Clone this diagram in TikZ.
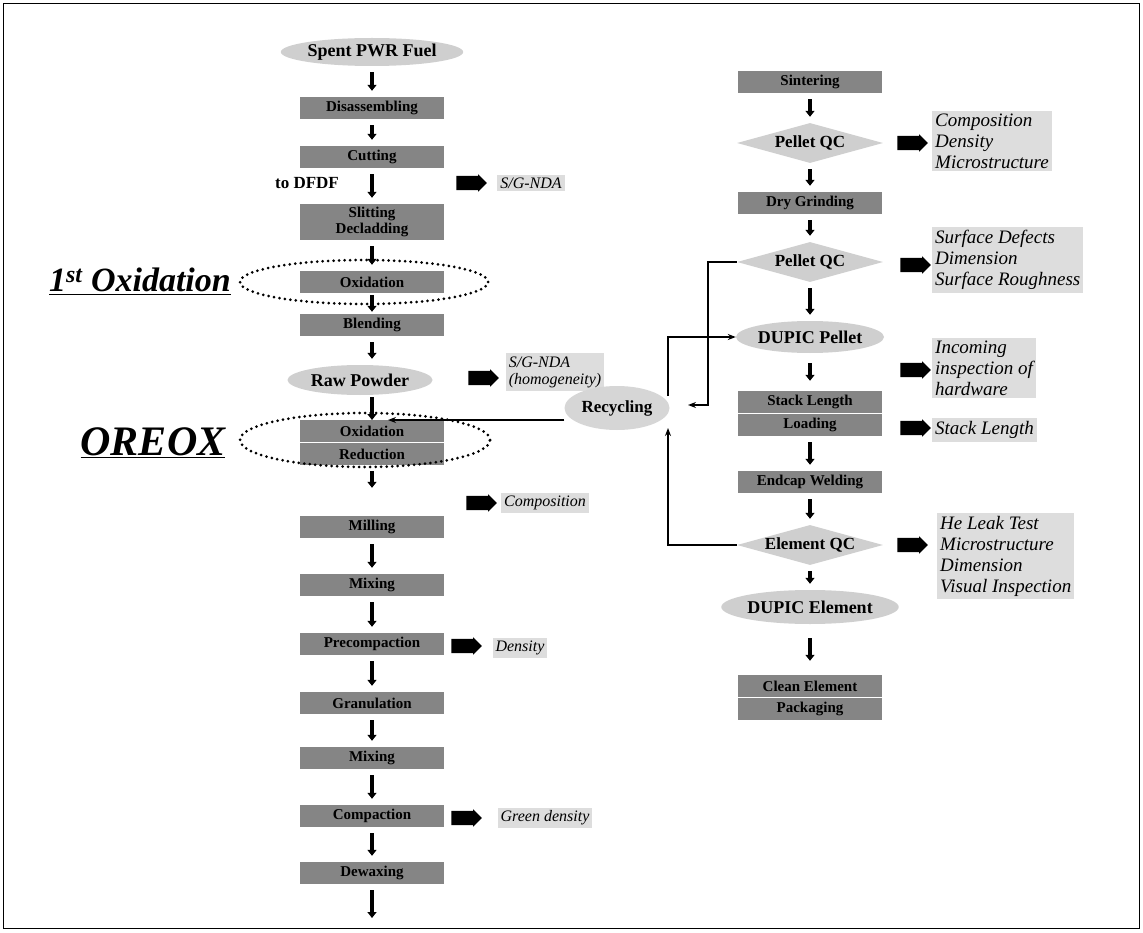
\documentclass[tikz,border=0pt]{standalone}
\usepackage{fontspec}
\setmainfont{Liberation Serif}
\usetikzlibrary{arrows.meta,shapes.geometric,shapes.arrows}

\definecolor{boxgray}{HTML}{858585}
\definecolor{ovalgray}{HTML}{CFCFCF}
\definecolor{notegray}{HTML}{DDDDDD}

\begin{document}
\begin{tikzpicture}[x=1pt,y=-1pt,
    stepbox/.style={rectangle,fill=boxgray,minimum width=144pt,minimum height=22pt,inner sep=1pt,align=center,font=\fontsize{15}{16}\selectfont\bfseries},
    oval/.style={ellipse,fill=ovalgray,inner sep=0pt,font=\fontsize{18}{20}\selectfont\bfseries},
    check/.style={diamond,fill=ovalgray,aspect=3.6,inner sep=0pt,minimum width=146pt,minimum height=40pt,font=\fontsize{17}{20}\selectfont\bfseries},
    note/.style={rectangle,fill=notegray,inner sep=3pt,align=left,font=\fontsize{19}{21}\selectfont\itshape},
    smallnote/.style={note,font=\fontsize{16}{17}\selectfont\itshape},
    fat/.style={single arrow,fill=black,single arrow head extend=1.5pt,text width=23pt,text height=7pt,text depth=7pt,inner sep=0pt},
    down/.style={line width=3.5pt,-{Triangle[width=9pt,length=6pt]},shorten <=6pt,shorten >=6pt},
    fb/.style={line width=1.3pt,-{Stealth[length=8pt,width=6pt]}},
    ring/.style={line width=3pt,dash pattern=on 0pt off 5.5pt,line cap=round}]
\useasboundingbox (0,0) rectangle (1143,933);
% Frame
\draw[line width=0.6pt] (3,3) rectangle (1139,928);

% Left column
\node[oval,minimum width=178pt,minimum height=28pt] (spent) at (372,52) {Spent PWR Fuel};
\node[stepbox] (disasm) at (372,108) {Disassembling};
\node[stepbox] (cut) at (372,157) {Cutting};
\node[stepbox,minimum height=36pt] (slit) at (372,222) {Slitting\\Decladding};
\node[stepbox] (oxi) at (372,282) {Oxidation};
\node[stepbox] (blend) at (372,325) {Blending};
\node[oval,minimum width=145pt,minimum height=30pt] (raw) at (360,380) {Raw Powder};
\coordinate (merge) at (372,420);
\coordinate (mergeR) at (388,420);
\node[stepbox] (oxr) at (372,431) {Oxidation};
\node[stepbox] (red) at (372,454) {Reduction};
\node[stepbox] (mill) at (372,527) {Milling};
\node[stepbox] (mixA) at (372,585) {Mixing};
\node[stepbox] (precomp) at (372,644) {Precompaction};
\node[stepbox] (gran) at (372,703) {Granulation};
\node[stepbox] (mixB) at (372,758) {Mixing};
\node[stepbox] (compact) at (372,816) {Compaction};
\node[stepbox] (dewax) at (372,873) {Dewaxing};
\coordinate (leftend) at (372,918);

\draw[down] (spent) -- (disasm);
\draw[down] (disasm) -- (cut);
\draw[down] (cut) -- (slit);
\draw[down] (slit) -- (oxi);
\draw[down,shorten <=2pt,shorten >=2pt] (oxi) -- (blend);
\draw[down] (blend) -- (blend |- raw.north);
\draw[down,shorten <=2pt,shorten >=0pt] (raw.south -| merge) -- (merge);
\draw[down,shorten >=28pt] (red) -- (mill);
\draw[down] (mill) -- (mixA);
\draw[down] (mixA) -- (precomp);
\draw[down] (precomp) -- (gran);
\draw[down] (gran) -- (mixB);
\draw[down] (mixB) -- (compact);
\draw[down] (compact) -- (dewax);
\draw[down,shorten >=0pt] (dewax) -- (leftend);

% Dotted rings and their labels
\draw[ring] (364,282) ellipse [x radius=124pt, y radius=22pt];
\draw[ring] (365,440) ellipse [x radius=125pt, y radius=27pt];
\node[anchor=base,font=\fontsize{34}{36}\selectfont\bfseries\itshape] (firstox) at (140,292) {\underline{1\textsuperscript{st} Oxidation}};
\node[anchor=base,font=\fontsize{42}{44}\selectfont\bfseries\itshape] (oreox) at (153,455) {\underline{OREOX}};

% Checks beside the left column
\node[font=\fontsize{17}{20}\selectfont\bfseries] (dfdf) at (307,183) {to DFDF};
\node[fat] (fatA) at (468,183) {};
\node[smallnote] (ndaA) at (531,183) {S/G-NDA};
\node[fat] (fatB) at (480,378) {};
\node[smallnote] (ndaB) at (555,372) {S/G-NDA\\(homogeneity)};
\node[fat] (fatC) at (478,503) {};
\node[smallnote] (compo) at (545,503) {Composition};
\node[fat] (fatD) at (463,646) {};
\node[smallnote] (dens) at (520,648) {Density};
\node[fat] (fatE) at (463,818) {};
\node[smallnote] (green) at (545,818) {Green density};

% Right column
\node[stepbox] (sinter) at (810,82) {Sintering};
\node[check] (pqcA) at (810,143) {Pellet QC};
\node[stepbox] (grind) at (810,203) {Dry Grinding};
\node[check] (pqcB) at (810,262) {Pellet QC};
\node[oval,minimum width=148pt,minimum height=32pt] (dpel) at (810,337) {DUPIC Pellet};
\node[stepbox] (stack) at (810,402) {Stack Length};
\node[stepbox] (load) at (810,425) {Loading};
\node[stepbox] (endcap) at (810,482) {Endcap Welding};
\node[check] (eqc) at (810,545) {Element QC};
\node[oval,minimum width=150pt,minimum height=34pt] (delem) at (810,607) {DUPIC Element};
\node[stepbox] (clean) at (810,686) {Clean Element};
\node[stepbox] (pack) at (810,709) {Packaging};

\draw[down] (sinter) -- (pqcA);
\draw[down] (pqcA) -- (grind);
\draw[down] (grind) -- (pqcB);
\draw[down] (pqcB) -- (dpel);
\draw[down,shorten <=10pt,shorten >=10pt] (dpel) -- (stack);
\draw[down] (load) -- (endcap);
\draw[down] (endcap) -- (eqc);
\draw[down] (eqc) -- (delem);
\draw[down,shorten <=14pt,shorten >=14pt] (delem) -- (clean);

% Checks beside the right column
\node[fat] (fatF) at (909,143) {};
\node[note,anchor=west] (qcA) at (932,141) {Composition\\Density\\Microstructure};
\node[fat] (fatG) at (912,265) {};
\node[note,anchor=west] (qcB) at (932,260) {Surface Defects\\Dimension\\Surface Roughness};
\node[fat] (fatH) at (912,370) {};
\node[note,anchor=west] (hard) at (932,368) {Incoming\\inspection of\\hardware};
\node[fat] (fatI) at (912,428) {};
\node[note,anchor=west] (stlen) at (932,430) {Stack Length};
\node[fat] (fatJ) at (909,545) {};
\node[note,anchor=west] (qcC) at (937,556) {He Leak Test\\Microstructure\\Dimension\\Visual Inspection};

% Recycling loop
\node[oval,fill=ovalgray!85,minimum width=105pt,minimum height=44pt,font=\fontsize{17}{20}\selectfont\bfseries] (recyc) at (617,408) {Recycling};
\coordinate (loopA) at (708,405);
\coordinate (loopB) at (688,405);
\coordinate (loopC) at (668,396);
\coordinate (loopD) at (668,428);
\draw[fb] (pqcB.west) -| (loopA) -- (loopB);
\draw[fb] (loopC) |- (dpel.west);
\draw[fb] (eqc.west) -| (loopD);
\draw[fb] (recyc.west |- merge) -- (mergeR);
\end{tikzpicture}
\end{document}
